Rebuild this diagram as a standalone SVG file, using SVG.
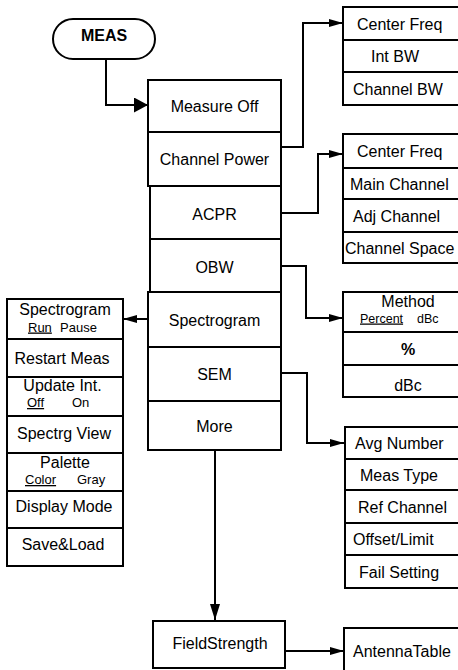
<svg xmlns="http://www.w3.org/2000/svg" width="458" height="670" viewBox="0 0 458 670">
<style>
.box{fill:#fff;stroke:#000;stroke-width:2}
.t{font-family:"Liberation Sans",Arial,sans-serif;font-size:16px;fill:#000}
.s{font-size:13px}
.s2{font-size:12.5px}
.c{text-anchor:middle}
.b{font-weight:bold}
.u{text-decoration:underline}
.ln{fill:none;stroke:#000;stroke-width:2}
</style>
<defs>
<marker id="a" markerUnits="userSpaceOnUse" markerWidth="14" markerHeight="8" refX="14" refY="4" orient="auto"><path d="M0,0 L14,4 L0,8 z" fill="#000"/></marker>
<marker id="big" markerUnits="userSpaceOnUse" markerWidth="14" markerHeight="15" refX="14" refY="7.5" orient="auto"><path d="M0,0 L14,7.5 L0,15 z" fill="#000"/></marker>
<marker id="dn" markerUnits="userSpaceOnUse" markerWidth="16" markerHeight="10" refX="16" refY="5" orient="auto"><path d="M0,0 L16,5 L0,10 z" fill="#000"/></marker>
</defs>
<rect width="458" height="670" fill="#fff"/>
<g id="connectors">
<path class="ln" d="M106,59 V105 H148" marker-end="url(#big)"/>
<path class="ln" d="M281,147 H303 V23 H343" marker-end="url(#a)"/>
<path class="ln" d="M281,213 H318 V154 H343" marker-end="url(#a)"/>
<path class="ln" d="M281,266 H306 V318 H343" marker-end="url(#a)"/>
<path class="ln" d="M281,373 H307 V443 H344" marker-end="url(#a)"/>
<path class="ln" d="M148,319 H123" marker-end="url(#a)"/>
<path class="ln" d="M215,450 V620" marker-end="url(#dn)"/>
<path class="ln" d="M285,651 H344" marker-end="url(#a)"/>
</g>
<g id="meas">
<rect class="box" x="53" y="19" width="102" height="40" rx="20"/>
<text class="t c b" x="104" y="41">MEAS</text>
</g>
<g id="main">
<rect class="box" x="148" y="80" width="133" height="52"/>
<text class="t c" x="214.5" y="112">Measure Off</text>
<rect class="box" x="148" y="132" width="133" height="54"/>
<text class="t c" x="214.5" y="165">Channel Power</text>
<rect class="box" x="150" y="186" width="131" height="53"/>
<text class="t c" x="214.5" y="220">ACPR</text>
<rect class="box" x="150" y="239" width="131" height="53"/>
<text class="t c" x="214.5" y="273">OBW</text>
<rect class="box" x="148" y="292" width="133" height="55"/>
<text class="t c" x="214.5" y="326">Spectrogram</text>
<rect class="box" x="148" y="347" width="133" height="54"/>
<text class="t c" x="214.5" y="380">SEM</text>
<rect class="box" x="148" y="401" width="133" height="49"/>
<text class="t c" x="214.5" y="432">More</text>
</g>
<g id="chpower-menu">
<rect class="box" x="343" y="7" width="120" height="33"/>
<text class="t" x="357" y="29.5">Center Freq</text>
<rect class="box" x="343" y="40" width="120" height="32"/>
<text class="t" x="371" y="62">Int BW</text>
<rect class="box" x="343" y="72" width="120" height="33"/>
<text class="t" x="353" y="94.5">Channel BW</text>
</g>
<g id="acpr-menu">
<rect class="box" x="343" y="134" width="120" height="34"/>
<text class="t" x="357" y="157">Center Freq</text>
<rect class="box" x="343" y="168" width="120" height="31"/>
<text class="t" x="350" y="189.5">Main Channel</text>
<rect class="box" x="343" y="199" width="120" height="33"/>
<text class="t" x="353" y="221.5">Adj Channel</text>
<rect class="box" x="343" y="232" width="120" height="31"/>
<text class="t" x="345" y="253.5">Channel Space</text>
</g>
<g id="obw-menu">
<rect class="box" x="343" y="292" width="120" height="40"/>
<text class="t c" x="408" y="306.5">Method</text>
<text class="t s2" x="360" y="322.5"><tspan class="u">Percent</tspan></text>
<text class="t s2" x="417" y="322.5">dBc</text>
<rect class="box" x="343" y="332" width="120" height="33"/>
<text class="t c b" x="408" y="355">%</text>
<rect class="box" x="343" y="365" width="120" height="32"/>
<text class="t c" x="408" y="391">dBc</text>
</g>
<g id="sem-menu">
<rect class="box" x="345" y="427" width="120" height="32"/>
<text class="t" x="355" y="449">Avg Number</text>
<rect class="box" x="345" y="459" width="120" height="31"/>
<text class="t" x="360" y="480.5">Meas Type</text>
<rect class="box" x="345" y="490" width="120" height="33"/>
<text class="t" x="358" y="512.5">Ref Channel</text>
<rect class="box" x="345" y="523" width="120" height="32"/>
<text class="t" x="353" y="545">Offset/Limit</text>
<rect class="box" x="345" y="555" width="120" height="33"/>
<text class="t" x="359" y="577.5">Fail Setting</text>
</g>
<g id="spectrogram-menu">
<rect class="box" x="7" y="299" width="116" height="40"/>
<text class="t c" x="65" y="315">Spectrogram</text>
<text class="t s" x="28" y="331.5"><tspan class="u">Run</tspan></text>
<text class="t s" x="60" y="331.5">Pause</text>
<rect class="box" x="7" y="339" width="116" height="38"/>
<text class="t c" x="62" y="364">Restart Meas</text>
<rect class="box" x="7" y="377" width="116" height="39"/>
<text class="t c" x="62.5" y="391">Update Int.</text>
<text class="t s" x="27" y="407"><tspan class="u">Off</tspan></text>
<text class="t s" x="72" y="407">On</text>
<rect class="box" x="7" y="416" width="116" height="37"/>
<text class="t c" x="64" y="438.5">Spectrg View</text>
<rect class="box" x="7" y="453" width="116" height="38"/>
<text class="t c" x="65" y="467.5">Palette</text>
<text class="t s" x="25" y="484"><tspan class="u">Color</tspan></text>
<text class="t s" x="77" y="484">Gray</text>
<rect class="box" x="7" y="491" width="116" height="37"/>
<text class="t c" x="64" y="511.5">Display Mode</text>
<rect class="box" x="7" y="528" width="116" height="38"/>
<text class="t c" x="63" y="549.5">Save&amp;Load</text>
</g>
<g id="fieldstrength">
<rect class="box" x="153" y="621" width="132" height="47"/>
<text class="t c" x="220" y="648.5">FieldStrength</text>
</g>
<g id="antennatable">
<rect class="box" x="344" y="628" width="120" height="50"/>
<text class="t" x="353" y="656.5">AntennaTable</text>
</g>
</svg>
